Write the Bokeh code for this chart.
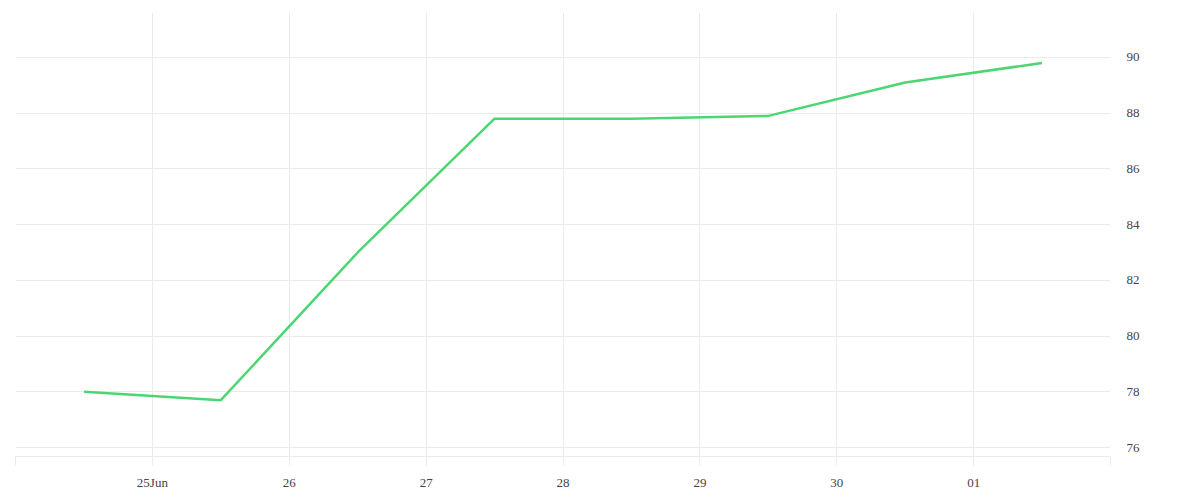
from datetime import datetime
from bokeh.plotting import figure
from bokeh.models import (ColumnDataSource, Range1d, FixedTicker, CustomJSTickFormatter,
                          LinearAxis, DatetimeAxis, Grid)
from bokeh.embed import file_html
from bokeh.resources import INLINE

# ---- data ----
dates = ["2024-06-24 12:00", "2024-06-25 12:00", "2024-06-26 12:00", "2024-06-27 12:00",
         "2024-06-28 12:00", "2024-06-29 12:00", "2024-06-30 12:00", "2024-07-01 12:00"]
values = [78.0, 77.7, 83.0, 87.8, 87.8, 87.9, 89.1, 89.8]
tick_days = ["2024-06-24", "2024-06-25", "2024-06-26", "2024-06-27", "2024-06-28",
             "2024-06-29", "2024-06-30", "2024-07-01", "2024-07-02"]
tick_labels = ["", "25Jun", "26", "27", "28", "29", "30", "01", ""]
y_ticks = [76, 78, 80, 82, 84, 86, 88, 90]

EPOCH = datetime(1970, 1, 1)
def ms(s, fmt):
    return (datetime.strptime(s, fmt) - EPOCH).total_seconds() * 1000.0

xs = [ms(d, "%Y-%m-%d %H:%M") for d in dates]
tick_ms = [ms(d, "%Y-%m-%d") for d in tick_days]

src = ColumnDataSource(data=dict(x=xs, y=values))

p = figure(width=1192, height=492, output_backend="svg", toolbar_location=None,
           x_axis_type=None, y_axis_location=None,
           x_range=Range1d(tick_ms[0], tick_ms[-1]),
           y_range=Range1d(75.68, 91.61),
           min_border_left=15, min_border_right=82, min_border_top=12, min_border_bottom=34)
p.outline_line_color = None
p.background_fill_color = "white"
p.border_fill_color = "white"

FONT = "Liberation Serif"
GRID = "#ebebeb"

xaxis = DatetimeAxis(ticker=FixedTicker(ticks=tick_ms))
xaxis.formatter = CustomJSTickFormatter(args=dict(tvals=tick_ms, tlabels=tick_labels), code="""
    let best = 0, bd = Infinity;
    for (let i = 0; i < tvals.length; i++) {
        const d = Math.abs(tvals[i] - tick);
        if (d < bd) { bd = d; best = i; }
    }
    return tlabels[best];
""")
xaxis.axis_line_color = GRID
xaxis.major_tick_line_color = GRID
xaxis.major_tick_in = 0
xaxis.major_tick_out = 9
xaxis.minor_tick_line_color = None
xaxis.major_label_text_font = FONT
xaxis.major_label_text_font_size = "13px"
xaxis.major_label_text_color = "#444444"
xaxis.major_label_standoff = 9
p.add_layout(xaxis, "below")

yaxis = LinearAxis(ticker=FixedTicker(ticks=y_ticks))
yaxis.axis_line_color = None
yaxis.major_tick_line_color = None
yaxis.minor_tick_line_color = None
yaxis.major_tick_out = 0
yaxis.major_tick_in = 0
yaxis.major_label_text_font = FONT
yaxis.major_label_text_font_size = "13px"
yaxis.major_label_text_color = "#444444"
yaxis.major_label_standoff = 16
p.add_layout(yaxis, "right")

p.add_layout(Grid(dimension=0, ticker=FixedTicker(ticks=tick_ms), grid_line_color=GRID))
p.add_layout(Grid(dimension=1, ticker=FixedTicker(ticks=y_ticks), grid_line_color=GRID))

p.line("x", "y", source=src, line_color="#4cd673", line_width=2.5)

open("out.html", "w").write(file_html(p, INLINE))
